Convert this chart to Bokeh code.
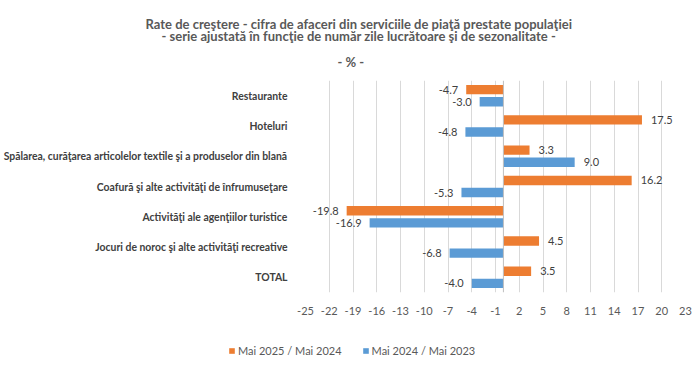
from bokeh.plotting import figure
from bokeh.layouts import column
from bokeh.models import (ColumnDataSource, FactorRange, Range1d, FixedTicker, Title,
                          Legend, LegendItem, Span)
from bokeh.transform import dodge
from bokeh.core.properties import value
from bokeh.embed import file_html
from bokeh.resources import INLINE

categories = [
    "Restaurante",
    "Hoteluri",
    "Spălarea, curăţarea articolelor textile şi a produselor din blană",
    "Coafură şi alte activităţi de înfrumuseţare",
    "Activităţi ale agenţiilor turistice",
    "Jocuri de noroc şi alte activităţi recreative",
    "TOTAL",
]
mai2025 = [-4.7, 17.5, 3.3, 16.2, -19.8, 4.5, 3.5]
mai2024 = [-3.0, -4.8, 9.0, -5.3, -16.9, -6.8, -4.0]
series_names = ["Mai 2025 / Mai 2024", "Mai 2024 / Mai 2023"]
x_ticks = list(range(-25, 24, 3))
x_tick_labels = {t: str(t) for t in x_ticks}
title_lines = [
    "Rate de creştere - cifra de afaceri din serviciile de piaţă prestate populaţiei",
    "- serie ajustată în funcţie de număr zile lucrătoare şi de sezonalitate -",
    "- % -",
]

ORANGE = "#ED7D31"
BLUE = "#5B9BD5"
FONT = "Lato"

W = 700
H_MAIN, H_LEG = 339, 30
p = figure(width=W, height=H_MAIN, output_backend="svg", toolbar_location=None,
           y_range=FactorRange(*reversed(categories), range_padding=0),
           x_range=Range1d(-25, 23),
           min_border_left=300, min_border_right=15, min_border_top=80, min_border_bottom=47)
p.outline_line_color = None
p.background_fill_color = "white"
p.border_fill_color = "white"


def mk(vals):
    return ColumnDataSource(dict(
        cat=categories, v=vals,
        lbl=["%.1f" % v for v in vals],
        off=[9 if v >= 0 else -8 for v in vals],
        align=["left" if v >= 0 else "right" for v in vals],
    ))


s1 = mk(mai2025)
s2 = mk(mai2024)
p.hbar(y=dodge("cat", 0.2, range=p.y_range), left=0, right="v", height=0.31,
       source=s1, fill_color=ORANGE, line_color=None)
p.hbar(y=dodge("cat", -0.2, range=p.y_range), left=0, right="v", height=0.31,
       source=s2, fill_color=BLUE, line_color=None)

for src, dy in ((s1, 0.2), (s2, -0.2)):
    p.text(x="v", y=dodge("cat", dy, range=p.y_range), text="lbl", source=src,
           x_offset="off", text_align="align", text_baseline="middle",
           text_font=value(FONT), text_font_size="11px", text_color="#404040")

p.add_layout(Span(location=0, dimension="height", line_color="#BFBFBF", line_width=1))

p.xaxis.ticker = FixedTicker(ticks=x_ticks)
p.xaxis.major_label_overrides = x_tick_labels
p.xaxis.axis_line_color = None
p.xaxis.major_tick_line_color = None
p.xaxis.minor_tick_line_color = None
p.xaxis.major_label_text_font = FONT
p.xaxis.major_label_text_font_size = "11px"
p.xaxis.major_label_text_color = "#595959"
p.xaxis.major_label_standoff = 8

p.yaxis.axis_line_color = None
p.yaxis.major_tick_line_color = None
p.yaxis.minor_tick_line_color = None
p.yaxis.major_label_text_font = FONT
p.yaxis.major_label_text_font_size = "10.4px"
p.yaxis.major_label_text_font_style = "bold"
p.yaxis.major_label_text_color = "#404040"
p.yaxis.major_label_standoff = 12

p.ygrid.grid_line_color = None
p.xgrid.grid_line_color = "#D9D9D9"

# title lines, nearest the frame first
offsets = [-160, -144, 32]
standoffs = [-4, -7, 22]
for i in (2, 1, 0):
    p.add_layout(Title(text=title_lines[i], align="left", offset=offsets[i],
                       text_font=FONT, text_font_size="13px", text_font_style="bold",
                       text_color="#595959", standoff=standoffs[i]), "above")

# legend strip below the chart
pl = figure(frame_width=W, frame_height=H_LEG, output_backend="svg", toolbar_location=None,
            x_axis_location=None, y_axis_location=None,
            min_border=0, min_border_left=0, min_border_right=0,
            min_border_top=0, min_border_bottom=0,
            x_range=Range1d(0, 1), y_range=Range1d(0, 1))
pl.outline_line_color = None
pl.grid.grid_line_color = None
hidden = ColumnDataSource(dict(y=[-5], r=[0]))
l1 = pl.hbar(y="y", left=0, right="r", height=0.5, source=hidden,
             fill_color=ORANGE, line_color=None)
l2 = pl.hbar(y="y", left=0, right="r", height=0.5, source=hidden,
             fill_color=BLUE, line_color=None)
legend = Legend(items=[LegendItem(label=series_names[0], renderers=[l1]),
                       LegendItem(label=series_names[1], renderers=[l2])],
                orientation="horizontal", location=(228, 12),
                glyph_width=7, glyph_height=7, label_standoff=3, spacing=20,
                label_height=14, padding=0, margin=0,
                border_line_color=None, background_fill_alpha=0,
                label_text_font=FONT, label_text_font_size="11px",
                label_text_color="#595959")
pl.add_layout(legend, "center")

layout = column(p, pl, spacing=0)
open("out.html", "w").write(file_html(layout, INLINE))
